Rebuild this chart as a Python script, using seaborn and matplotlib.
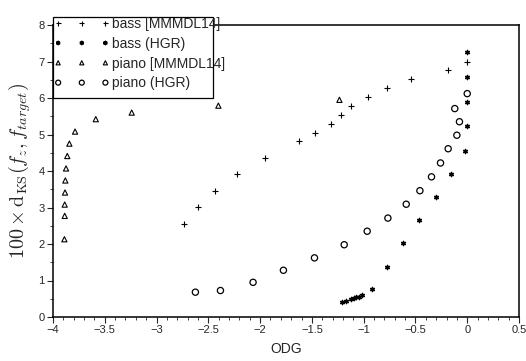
import matplotlib
matplotlib.use("Agg")
import matplotlib.pyplot as plt
import seaborn as sns
import pandas as pd
import numpy as np
from matplotlib.ticker import MultipleLocator, FuncFormatter
from matplotlib.patches import Rectangle

# ---- data ----
bass_mm_x = [-2.734, -2.599, -2.432, -2.219, -1.949, -1.626, -1.471, -1.317,
             -1.217, -1.121, -0.959, -0.773, -0.541, -0.19, 0.0]
bass_mm_y = [2.55, 3.01, 3.45, 3.91, 4.36, 4.81, 5.05, 5.30,
             5.54, 5.79, 6.04, 6.28, 6.52, 6.77, 7.00]

bass_hgr_x = [-1.21, -1.166, -1.121, -1.092, -1.07, -1.046, -1.018, -0.918,
              -0.776, -0.621, -0.464, -0.303, -0.154, -0.02, 0.0, 0.0, 0.0, 0.0]
bass_hgr_y = [0.42, 0.45, 0.49, 0.52, 0.54, 0.56, 0.60, 0.76,
              1.37, 2.02, 2.65, 3.28, 3.92, 4.56, 5.22, 5.90, 6.57, 7.25]

piano_mm_x = [-3.89, -3.887, -3.887, -3.884, -3.881, -3.874, -3.862, -3.842,
              -3.787, -3.587, -3.24, -2.403, -1.234]
piano_mm_y = [2.13, 2.77, 3.08, 3.41, 3.74, 4.07, 4.41, 4.75,
              5.08, 5.42, 5.60, 5.79, 5.95]

piano_hgr_x = [-2.625, -2.383, -2.068, -1.775, -1.475, -1.188, -0.966, -0.766,
               -0.589, -0.457, -0.345, -0.258, -0.184, -0.1, -0.075, -0.12, 0.0]
piano_hgr_y = [0.68, 0.725, 0.95, 1.28, 1.62, 1.98, 2.35, 2.71,
               3.09, 3.46, 3.84, 4.22, 4.61, 4.98, 5.35, 5.71, 6.12]

labels = ["bass [MMMDL14]", "bass (HGR)", "piano [MMMDL14]", "piano (HGR)"]
x_ticks = [-4, -3.5, -3, -2.5, -2, -1.5, -1, -0.5, 0, 0.5]
y_ticks = [0, 1, 2, 3, 4, 5, 6, 7, 8]

sns.set_style("ticks")
plt.rcParams["font.family"] = ["Liberation Sans", "DejaVu Sans"]
plt.rcParams["mathtext.fontset"] = "cm"

W, H = 526, 361
fig = plt.figure(figsize=(W / 100, H / 100), dpi=100)
ax = fig.add_axes([53 / W, 1 - 317 / H, (519 - 53) / W, (317 - 25) / H])

df_bm = pd.DataFrame({"x": bass_mm_x, "y": bass_mm_y})
df_bh = pd.DataFrame({"x": bass_hgr_x, "y": bass_hgr_y})
df_pm = pd.DataFrame({"x": piano_mm_x, "y": piano_mm_y})
df_ph = pd.DataFrame({"x": piano_hgr_x, "y": piano_hgr_y})

sns.scatterplot(data=df_bm, x="x", y="y", ax=ax, marker="+", s=22, color="black",
                linewidth=0.8, label=labels[0], legend=False)
sns.scatterplot(data=df_bh, x="x", y="y", ax=ax, marker=(6, 2, 0), s=9, color="black",
                linewidth=1.0, label=labels[1], legend=False)
sns.scatterplot(data=df_pm, x="x", y="y", ax=ax, marker="^", s=14, facecolor="none",
                edgecolor="black", linewidth=0.8, label=labels[2], legend=False)
sns.scatterplot(data=df_ph, x="x", y="y", ax=ax, marker="o", s=20, facecolor="none",
                edgecolor="black", linewidth=0.9, label=labels[3], legend=False)

ax.set_xlim(-4, 0.5)
ax.set_ylim(0, 8)
ax.set_xticks(x_ticks)
ax.set_yticks(y_ticks)
ax.xaxis.set_minor_locator(MultipleLocator(0.1))
ax.yaxis.set_minor_locator(MultipleLocator(0.5))
fmt = FuncFormatter(lambda v, p: ("%g" % v).replace("-", "\u2212"))
ax.xaxis.set_major_formatter(fmt)
ax.tick_params(axis="both", which="major", labelsize=8, length=4, width=0.8, direction="out", pad=2)
ax.tick_params(axis="both", which="minor", length=2, width=0.6, direction="out")
for sp in ax.spines.values():
    sp.set_visible(True)
    sp.set_linewidth(1.1)
    sp.set_color("black")

ax.set_xlabel("ODG", fontsize=10, labelpad=5)
ax.set_ylabel(r"$100 \times \mathrm{d}_{\mathrm{KS}}(f_z, f_{target})$", fontsize=14.5, labelpad=4)

leg = ax.legend(loc="upper left", bbox_to_anchor=(54 / W, 1 - 17 / H),
                bbox_transform=fig.transFigure, frameon=False, fontsize=10,
                scatterpoints=3, scatteryoffsets=[0.5], handlelength=4.0,
                handletextpad=0.2, borderpad=0, borderaxespad=0, labelspacing=0.42,
                markerscale=0.8)
leg.set_zorder(6)

rect = Rectangle((53 / W, 1 - 98 / H), (213 - 53) / W, (98 - 17) / H,
                 transform=fig.transFigure, facecolor="white", edgecolor="black",
                 linewidth=0.9, zorder=5, clip_on=False)
ax.add_patch(rect)

fig.savefig("out.png", dpi=100)
